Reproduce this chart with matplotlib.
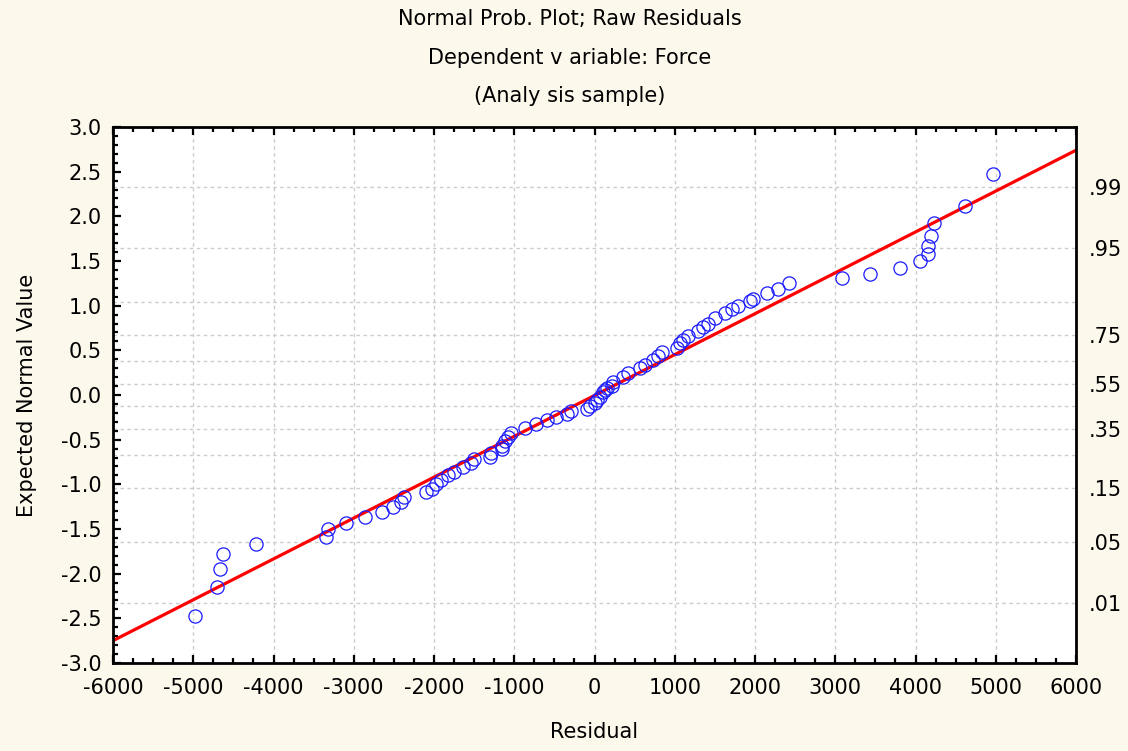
import matplotlib.pyplot as plt
import matplotlib
from matplotlib.ticker import MultipleLocator, FixedLocator
from statistics import NormalDist

matplotlib.rcParams['font.family'] = ['DejaVu Sans']
matplotlib.rcParams['axes.unicode_minus'] = False

# residuals (x) and expected normal values (y)
residual = [-4980, -4708, -4667, -4635, -4218, -3346, -3317, -3100, -2860, -2652,
            -2515, -2411, -2378, -2100, -2029, -1975, -1913, -1829, -1747, -1635,
            -1539, -1498, -1302, -1290, -1156, -1150, -1120, -1074, -1040, -870,
            -730, -596, -480, -345, -290, -90, -50, 6, 27, 69,
            102, 130, 152, 214, 234, 359, 421, 567, 629, 733,
            795, 837, 1024, 1065, 1107, 1169, 1293, 1356, 1418, 1502,
            1626, 1717, 1792, 1938, 1979, 2146, 2290, 2427, 3080, 3433,
            3810, 4056, 4159, 4159, 4190, 4231, 4617, 4962]
expected = [-2.47, -2.15, -1.95, -1.78, -1.67, -1.59, -1.50, -1.43, -1.37, -1.31,
            -1.25, -1.20, -1.14, -1.09, -1.05, -1.00, -0.95, -0.90, -0.86, -0.81,
            -0.76, -0.72, -0.69, -0.65, -0.61, -0.57, -0.52, -0.47, -0.42, -0.37,
            -0.32, -0.28, -0.245, -0.215, -0.18, -0.155, -0.12, -0.09, -0.06, -0.02,
            0.03, 0.055, 0.075, 0.10, 0.14, 0.20, 0.25, 0.30, 0.34, 0.39,
            0.44, 0.485, 0.53, 0.58, 0.62, 0.66, 0.72, 0.765, 0.795, 0.86,
            0.915, 0.96, 1.00, 1.055, 1.075, 1.14, 1.19, 1.25, 1.31, 1.36,
            1.42, 1.50, 1.58, 1.67, 1.78, 1.92, 2.12, 2.47]

# fitted line end points
line_x = [-6000, 6000]
line_y = [-2.75, 2.74]

# probability scale on the right
grid_probs = [.01, .05, .15, .25, .35, .45, .55, .65, .75, .85, .95, .99]
label_probs = [.01, .05, .15, .35, .55, .75, .95, .99]
prob_text = ['.01', '.05', '.15', '.35', '.55', '.75', '.95', '.99']

bg = '#fdf8ec'
fig = plt.figure(figsize=(11.28, 7.51), dpi=100, facecolor=bg)
ax = fig.add_axes([113/1128, 1 - 663/751, 963/1128, 536/751])
ax.set_facecolor('white')

nd = NormalDist()
for p in grid_probs:
    ax.axhline(nd.inv_cdf(p), color='#cccccc', linestyle=(0, (2.5, 2.5)), linewidth=1.0, zorder=0)
for gx in range(-5000, 6000, 1000):
    ax.axvline(gx, color='#cccccc', linestyle=(0, (2.5, 2.5)), linewidth=1.0, zorder=0)

ax.plot(line_x, line_y, color='#ff0000', linewidth=2.3, zorder=2)
ax.plot(residual, expected, linestyle='none', marker='o', markersize=9.5,
        markerfacecolor='none', markeredgecolor='#1a1aff', markeredgewidth=0.9, zorder=3)

ax.set_xlim(-6000, 6000)
ax.set_ylim(-3, 3)
ax.xaxis.set_major_locator(MultipleLocator(1000))
ax.xaxis.set_minor_locator(MultipleLocator(250))
ax.yaxis.set_major_locator(MultipleLocator(0.5))
ax.yaxis.set_minor_locator(MultipleLocator(0.1))
ax.yaxis.set_major_formatter(matplotlib.ticker.FormatStrFormatter('%.1f'))

for s in ax.spines.values():
    s.set_linewidth(2.0)
ax.tick_params(which='both', direction='in', top=True, right=True, width=1.6, colors='black')
ax.tick_params(which='major', length=6)
ax.tick_params(which='minor', length=3.5)
ax.tick_params(axis='x', labelsize=15, pad=11)
ax.tick_params(axis='y', labelsize=15, pad=8)

ax2 = ax.twinx()
ax2.set_ylim(-3, 3)
ax2.yaxis.set_major_locator(FixedLocator([nd.inv_cdf(p) for p in label_probs]))
ax2.set_yticklabels(prob_text)
ax2.tick_params(axis='y', length=0, labelsize=15, pad=9)
ax2.yaxis.set_minor_locator(FixedLocator([]))
for s in ax2.spines.values():
    s.set_visible(False)

fig.text(0.505, 1 - 19/751, 'Normal Prob. Plot; Raw Residuals', ha='center', va='center', fontsize=15)
fig.text(0.505, 1 - 58/751, 'Dependent v ariable: Force', ha='center', va='center', fontsize=15)
fig.text(0.505, 1 - 96/751, '(Analy sis sample)', ha='center', va='center', fontsize=15)
fig.text(594.5/1128, 1 - 732/751, 'Residual', ha='center', va='center', fontsize=15)
fig.text(27/1128, 1 - 395/751, 'Expected Normal Value', ha='center', va='center',
         rotation=90, fontsize=15)

fig.savefig('out.png', dpi=100, facecolor=bg)
